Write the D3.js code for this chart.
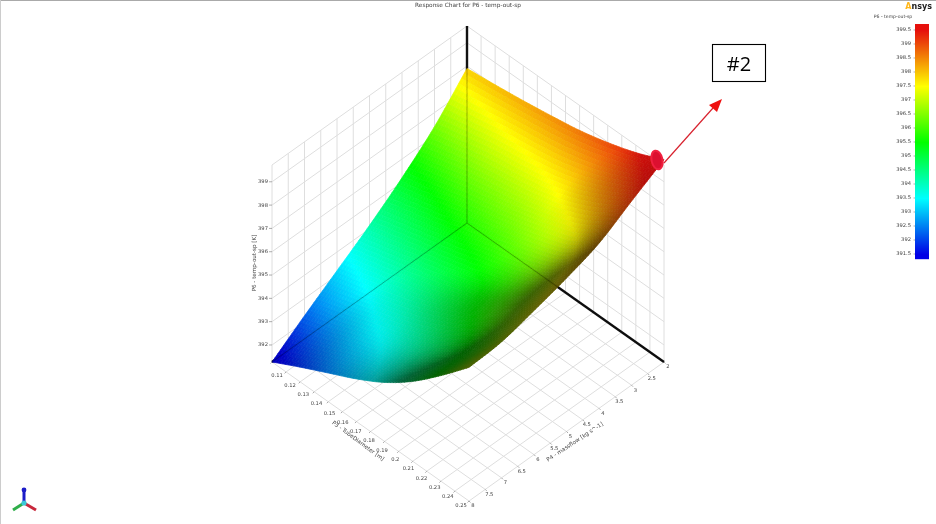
<!DOCTYPE html>
<html>
<head>
<meta charset="utf-8">
<script src="https://cdn.jsdelivr.net/npm/d3@7"></script>
<style>
html,body{margin:0;padding:0;background:#fff;overflow:hidden}
svg{filter:blur(0.4px)}
text{font-family:"DejaVu Sans",sans-serif}
</style>
</head>
<body>
<script>
var diameterTicks = [0.11,0.12,0.13,0.14,0.15,0.16,0.17,0.18,0.19,0.2,0.21,0.22,0.23,0.24,0.25];
var massflowTicks = [2,2.5,3,3.5,4,4.5,5,5.5,6,6.5,7,7.5,8];
var tempTicks = [392,393,394,395,396,397,398,399];
var legendTicks = [399.5,399,398.5,398,397.5,397,396.5,396,395.5,395,394.5,394,393.5,393,392.5,392,391.5];

// surface: one row per massflow, one column per diameter
var surfaceDiameter = [0.11,0.13,0.15,0.17,0.19,0.21,0.23,0.25];
var surfaceMassflow = [2,3,4,5,6,7,8];
var surfaceTemp = [
  [397.9,398.05,398.22,398.42,398.65,398.98,399.4,399.95],
  [396.4,396.7,397.0,397.2,397.45,397.85,398.45,399.16],
  [395.2,395.5,395.85,396.15,396.45,396.85,397.35,398.35],
  [394.15,394.5,394.85,395.2,395.55,396.0,396.7,397.85],
  [393.2,393.55,393.95,394.4,394.95,395.6,396.35,397.45],
  [392.26,392.7,393.2,393.65,394.2,394.9,395.85,397.1],
  [391.27,391.9,392.5,393.1,393.8,394.7,395.8,397.0]
];

var colorStops = [391.5,393.5,395.5,397.5,399.5];
var colorValues = ["#0000e6","#00ffff","#00ff00","#ffff00","#e6100c"];

var width = 936, height = 524;
var svg = d3.select("body").append("svg").attr("width",width).attr("height",height);

// floor diamond: back corner (d min, m min), u goes along diameter, v along massflow
var back = [467,223], uStep = [197,139], vStep = [-195,139];
var uScale = d3.scaleLinear().domain([0.11,0.25]).range([0,1]);
var vScale = d3.scaleLinear().domain([2,8]).range([0,1]);
var zScale = d3.scaleLinear().domain([391.27,399.72]).range([0,197]);
var colorScale = d3.scaleLinear().domain(colorStops).range(colorValues).clamp(true);
var zMin = 391.27, zMax = 399.72;

var project = function(u,v,z){
    return [back[0]+u*uStep[0]+v*vStep[0], back[1]+u*uStep[1]+v*vStep[1]-zScale(z)];
};
var line = d3.line();

// background grid
var wallLines = [];
massflowTicks.forEach(function(m){
    var v = vScale(m);
    wallLines.push([project(0,v,zMin),project(0,v,zMax)]);
    wallLines.push([project(0,v,zMin),project(1,v,zMin)]);
});
diameterTicks.forEach(function(d){
    var u = uScale(d);
    wallLines.push([project(u,0,zMin),project(u,0,zMax)]);
    wallLines.push([project(u,0,zMin),project(u,1,zMin)]);
});
tempTicks.concat([zMax]).forEach(function(t){
    wallLines.push([project(0,0,t),project(0,1,t)]);
    wallLines.push([project(0,0,t),project(1,0,t)]);
});
svg.append("g").selectAll("path").data(wallLines).enter().append("path")
    .attr("d",line).attr("fill","none").attr("stroke","#dedede").attr("stroke-width",1);

// thick axes behind the surface
svg.append("g").selectAll("path")
    .data([[project(0,0,zMin),project(0,0,zMax)],[project(0,0,zMin),project(1,0,zMin)],[project(0,0,zMin),project(0,1,zMin)]])
    .enter().append("path").attr("d",line).attr("stroke","#111").attr("stroke-width",2.4).attr("fill","none");

// smooth lookup between the read values
var cubic = function(a,b,c,d,t){
    return 0.5*(2*b+(c-a)*t+(2*a-5*b+4*c-d)*t*t+(3*b-a-3*c+d)*t*t*t);
};
var cell = function(j,i){
    var ni = surfaceDiameter.length-1, nj = surfaceMassflow.length-1;
    var ci = Math.max(0,Math.min(ni,i)), cj = Math.max(0,Math.min(nj,j));
    var val = surfaceTemp[cj][ci];
    if(i<0) val += surfaceTemp[cj][0]-surfaceTemp[cj][1];
    if(i>ni) val += surfaceTemp[cj][ni]-surfaceTemp[cj][ni-1];
    if(j<0) val += surfaceTemp[0][ci]-surfaceTemp[1][ci];
    if(j>nj) val += surfaceTemp[nj][ci]-surfaceTemp[nj-1][ci];
    return val;
};
var surfaceAt = function(u,v){
    var x = u*(surfaceDiameter.length-1), y = v*(surfaceMassflow.length-1);
    var i = Math.min(Math.floor(x),surfaceDiameter.length-2), j = Math.min(Math.floor(y),surfaceMassflow.length-2);
    var tx = x-i, ty = y-j, rows = [];
    for(var k=-1;k<=2;k++){
        rows.push(cubic(cell(j+k,i-1),cell(j+k,i),cell(j+k,i+1),cell(j+k,i+2),tx));
    }
    return cubic(rows[0],rows[1],rows[2],rows[3],ty);
};
// darker where the surface turns away from the viewer, wide difference to keep it soft
var shadeAt = function(u,v){
    var e = 0.09;
    var u0 = Math.max(0,u-e), u1 = Math.min(1,u+e), v0 = Math.max(0,v-e), v1 = Math.min(1,v+e);
    var zu = (surfaceAt(u1,v)-surfaceAt(u0,v))/(u1-u0);
    var zv = (surfaceAt(u,v1)-surfaceAt(u,v0))/(v1-v0);
    var nx = -0.118*zu, ny = -0.118*zv;
    var dot = (0.5*nx+0.5*ny+0.707)/Math.sqrt(nx*nx+ny*ny+1);
    return Math.max(0.38,Math.min(1,(dot-0.1)/0.6));
};

var patches = [];
var steps = 70;
for(var a=0;a<steps;a++){
    for(var b=0;b<steps;b++){
        patches.push({u0:a/steps,u1:(a+1)/steps,v0:b/steps,v1:(b+1)/steps});
    }
}
patches.sort(function(p,q){ return (p.u0+p.v0)-(q.u0+q.v0); });

var patchPath = function(p){
    return line([
        project(p.u0,p.v0,surfaceAt(p.u0,p.v0)),
        project(p.u1,p.v0,surfaceAt(p.u1,p.v0)),
        project(p.u1,p.v1,surfaceAt(p.u1,p.v1)),
        project(p.u0,p.v1,surfaceAt(p.u0,p.v1))
    ])+"Z";
};
var patchColor = function(p){
    var mu = (p.u0+p.u1)/2, mv = (p.v0+p.v1)/2;
    var c = d3.rgb(colorScale(surfaceAt(mu,mv))), s = shadeAt(mu,mv);
    return d3.rgb(c.r*s,c.g*s,c.b*s).formatRgb();
};
svg.append("g").selectAll("path").data(patches).enter().append("path")
    .attr("d",patchPath)
    .attr("fill",patchColor)
    .attr("stroke",patchColor)
    .attr("stroke-width",0.7);

// axis lines seen through the surface
svg.append("g").selectAll("path")
    .data([[project(0,0,zMin),project(0,0,surfaceTemp[0][0])],[project(0,0,zMin),project(1,0,zMin)],[project(0,0,zMin),project(0,1,zMin)]])
    .enter().append("path").attr("d",line).attr("stroke","#000").attr("stroke-opacity",0.4).attr("stroke-width",0.7).attr("fill","none");

var labelColor = "#444";
var smallText = function(sel,size){
    return sel.attr("font-size",size).attr("fill",labelColor).attr("text-anchor","middle").attr("dominant-baseline","middle");
};

// z axis
var zAxis = svg.append("g");
zAxis.selectAll("line").data(tempTicks).enter().append("line")
    .attr("x1",function(d){return project(0,1,d)[0]-3;})
    .attr("x2",function(d){return project(0,1,d)[0];})
    .attr("y1",function(d){return project(0,1,d)[1];})
    .attr("y2",function(d){return project(0,1,d)[1];})
    .attr("stroke","#777").attr("stroke-width",0.6);
smallText(zAxis.selectAll("text").data(tempTicks).enter().append("text"),5.2)
    .attr("x",function(d){return project(0,1,d)[0]-9;})
    .attr("y",function(d){return project(0,1,d)[1];})
    .text(function(d){return d;});
smallText(svg.append("text"),5.6)
    .attr("transform","translate(254,263) rotate(-90)")
    .text("P6 - temp-out-sp [K]");

// floor ticks, diameter side
var diaLabelDx = d3.scaleLinear().domain([0,1]).range([5,-8]);
var diaLabelDy = d3.scaleLinear().domain([0,1]).range([14,5]);
var dAxis = svg.append("g");
dAxis.selectAll("line").data(diameterTicks).enter().append("line")
    .attr("x1",function(d){return project(uScale(d),1,zMin)[0];})
    .attr("y1",function(d){return project(uScale(d),1,zMin)[1];})
    .attr("x2",function(d){return project(uScale(d),1,zMin)[0]-1.5;})
    .attr("y2",function(d){return project(uScale(d),1,zMin)[1]+1.5;})
    .attr("stroke","#888").attr("stroke-width",0.7);
smallText(dAxis.selectAll("text").data(diameterTicks).enter().append("text"),5.2)
    .attr("x",function(d){return project(uScale(d),1,zMin)[0]+diaLabelDx(uScale(d));})
    .attr("y",function(d){return project(uScale(d),1,zMin)[1]+diaLabelDy(uScale(d));})
    .text(function(d){return d;});
smallText(svg.append("text"),5.6)
    .attr("transform","translate(358,441) rotate(36.5)")
    .text("P3 - TubeDiameter [m]");

// floor ticks, massflow side
var mAxis = svg.append("g");
mAxis.selectAll("line").data(massflowTicks).enter().append("line")
    .attr("x1",function(d){return project(1,vScale(d),zMin)[0];})
    .attr("y1",function(d){return project(1,vScale(d),zMin)[1];})
    .attr("x2",function(d){return project(1,vScale(d),zMin)[0]+1.5;})
    .attr("y2",function(d){return project(1,vScale(d),zMin)[1]+1.5;})
    .attr("stroke","#888").attr("stroke-width",0.7);
smallText(mAxis.selectAll("text").data(massflowTicks).enter().append("text"),5.2)
    .attr("x",function(d){return project(1,vScale(d),zMin)[0]+4;})
    .attr("y",function(d){return project(1,vScale(d),zMin)[1]+5;})
    .text(function(d){return d;});
smallText(svg.append("text"),5.6)
    .attr("transform","translate(575,442) rotate(-33.5)")
    .text("P4 - massflow [kg s^-1]");

// title
smallText(svg.append("text"),5.8).attr("x",468).attr("y",5).text("Response Chart for P6 - temp-out-sp");

// colour bar
var legendY = d3.scaleLinear().domain([391.5,399.5]).range([254,30]);
var legendBand = d3.range(235).map(function(i){ return 24+i; });
svg.append("g").selectAll("rect").data(legendBand).enter().append("rect")
    .attr("x",915).attr("width",14).attr("y",function(d){return d;}).attr("height",1.2)
    .attr("fill",function(d){return colorScale(legendY.invert(d));});
svg.append("g").selectAll("line").data(legendTicks).enter().append("line")
    .attr("x1",913.5).attr("x2",915).attr("y1",legendY).attr("y2",legendY)
    .attr("stroke","#777").attr("stroke-width",0.6);
smallText(svg.append("g").selectAll("text").data(legendTicks).enter().append("text"),5.2)
    .attr("x",911).attr("y",legendY).attr("text-anchor","end").text(function(d){return d;});
smallText(svg.append("text"),4.6).attr("x",893).attr("y",17).text("P6 - temp-out-sp");

// logo
var logo = svg.append("text").attr("x",932).attr("y",9).attr("text-anchor","end")
    .attr("font-size",8).attr("font-weight","bold").attr("fill","#222");
logo.append("tspan").attr("fill","#ffb71b").text("A");
logo.append("tspan").text("nsys");

// frame remains of the screenshot
svg.append("line").attr("x1",0).attr("x2",width).attr("y1",0.5).attr("y2",0.5).attr("stroke","#aaa");
svg.append("line").attr("x1",0.5).attr("x2",0.5).attr("y1",0).attr("y2",height).attr("stroke","#ccc");

// annotation
svg.append("rect").attr("x",712.5).attr("y",44.5).attr("width",53).attr("height",37)
    .attr("fill","#fff").attr("stroke","#000").attr("stroke-width",1.1);
svg.append("text").attr("x",739).attr("y",71).attr("text-anchor","middle")
    .attr("font-size",20).attr("fill","#000").style("font-family","'Open Sans'").text("#2");
svg.append("line").attr("x1",664).attr("y1",163).attr("x2",713).attr("y2",108)
    .attr("stroke","#d8232f").attr("stroke-width",1.2);
svg.append("path").attr("d",line([[722,99],[709,105],[717,112]])+"Z").attr("fill","#ee1111");
svg.append("ellipse").attr("cx",657).attr("cy",160).attr("rx",5.5).attr("ry",9.5)
    .attr("transform","rotate(-12,657,160)")
    .attr("fill","#dc1030").attr("stroke","#f0203f").attr("stroke-width",2);

// triad
var triad = [
    {x:24,y:490,c:"#1c1cc8"},
    {x:13,y:510,c:"#2fae4a"},
    {x:36,y:510,c:"#c8283c"}
];
svg.append("g").selectAll("line").data(triad).enter().append("line")
    .attr("x1",24).attr("y1",503).attr("x2",function(d){return d.x;}).attr("y2",function(d){return d.y;})
    .attr("stroke",function(d){return d.c;}).attr("stroke-width",3);
svg.append("circle").attr("cx",24).attr("cy",490).attr("r",2.4).attr("fill","#1c1cc8");
svg.append("circle").attr("cx",24).attr("cy",503).attr("r",2.6).attr("fill","#3cc8d8");
</script>
</body>
</html>
